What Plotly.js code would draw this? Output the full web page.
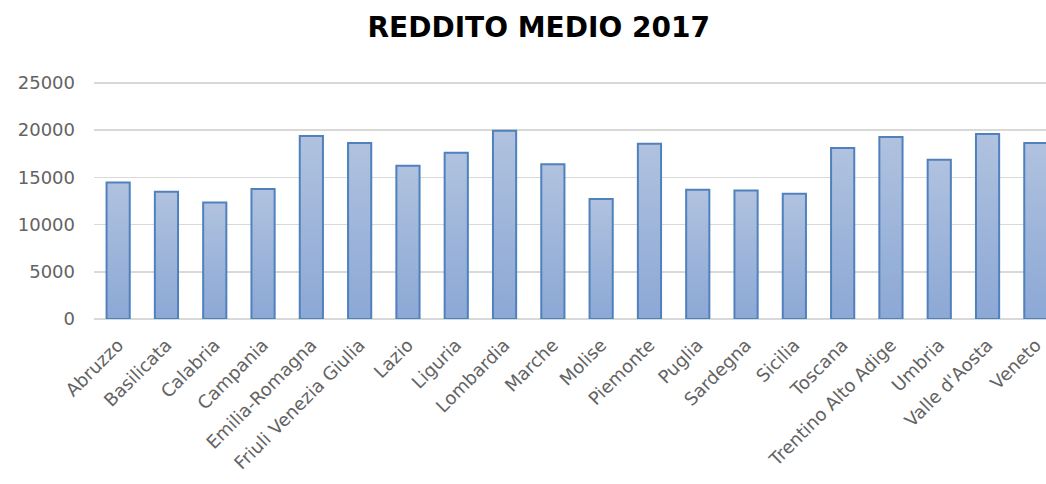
<!DOCTYPE html>
<html>
<head>
<meta charset="utf-8">
<script src="https://cdn.plot.ly/plotly-3.0.1.min.js"></script>
<style>html,body{margin:0;padding:0;background:#fff;}#chart{width:1046px;height:484px;}</style>
</head>
<body>
<div id="chart"></div>
<script>
const regions = ["Abruzzo","Basilicata","Calabria","Campania","Emilia-Romagna","Friuli Venezia Giulia","Lazio","Liguria","Lombardia","Marche","Molise","Piemonte","Puglia","Sardegna","Sicilia","Toscana","Trentino Alto Adige","Umbria","Valle d'Aosta","Veneto"];
const reddito = [14440,13460,12330,13770,19380,18640,16210,17610,19940,16380,12690,18560,13670,13600,13250,18110,19270,16870,19590,18640];
const yTicks = [0,5000,10000,15000,20000,25000];

const trace = {
  type: 'bar',
  x: regions,
  y: reddito,
  marker: {color: '#9db4da', line: {color: '#4f81bd', width: 2}},
  hoverinfo: 'x+y'
};

const layout = {
  width: 1046, height: 484,
  margin: {l: 94, r: 0, t: 80, b: 165, pad: 0},
  paper_bgcolor: '#ffffff', plot_bgcolor: '#ffffff',
  showlegend: false,
  bargap: 0.52,
  title: {
    text: '<b>REDDITO MEDIO 2017</b>',
    font: {family: 'DejaVu Sans', size: 28, color: '#000000'},
    xref: 'container', yref: 'container',
    x: 0.515, xanchor: 'center', y: 0.943, yanchor: 'middle'
  },
  xaxis: {
    type: 'category',
    range: [-0.5, 19.21],
    tickangle: -45,
    tickfont: {family: 'DejaVu Sans', size: 18, color: '#636363'},
    showgrid: false, showline: false, ticks: '',
    ticklabelstandoff: 11,
    automargin: false
  },
  yaxis: {
    range: [0, 25300],
    tickvals: yTicks,
    ticktext: yTicks.map(String),
    tickfont: {family: 'DejaVu Sans', size: 18, color: '#636363'},
    showgrid: true, gridcolor: '#d9d9d9', gridwidth: 1.5,
    zeroline: true, zerolinecolor: '#d9d9d9', zerolinewidth: 1.5,
    showline: false, ticks: '',
    ticklabelstandoff: 18,
    automargin: false
  }
};

Plotly.newPlot('chart', [trace], layout, {displayModeBar: false, staticPlot: true}).then(function(gd){
  const svg = gd.querySelector('svg.main-svg');
  const ns = 'http://www.w3.org/2000/svg';
  let defs = svg.querySelector('defs');
  if (!defs) { defs = document.createElementNS(ns, 'defs'); svg.insertBefore(defs, svg.firstChild); }
  const grad = document.createElementNS(ns, 'linearGradient');
  grad.setAttribute('id', 'barGrad');
  grad.setAttribute('x1', '0'); grad.setAttribute('y1', '0');
  grad.setAttribute('x2', '0'); grad.setAttribute('y2', '1');
  [['0', '#b0c2df'], ['1', '#8ca8d5']].forEach(function(s){
    const st = document.createElementNS(ns, 'stop');
    st.setAttribute('offset', s[0]); st.setAttribute('stop-color', s[1]);
    grad.appendChild(st);
  });
  defs.appendChild(grad);
  gd.querySelectorAll('.bars .point path').forEach(function(p){ p.style.fill = 'url(#barGrad)'; });
});
</script>
</body>
</html>
